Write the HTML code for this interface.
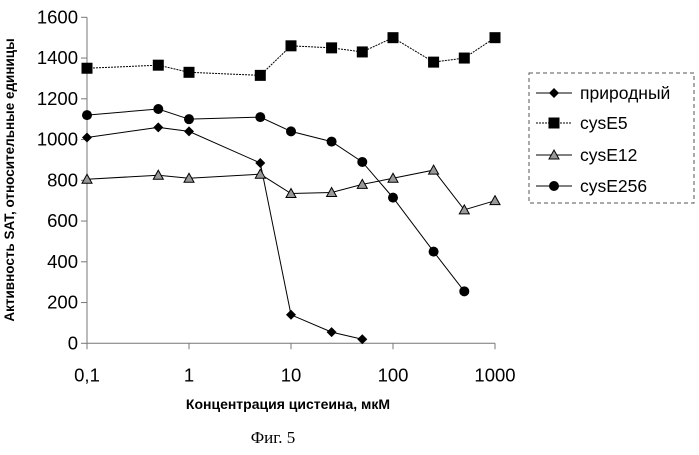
<!DOCTYPE html>
<html><head><meta charset="utf-8"><style>
html,body{margin:0;padding:0;background:#fff;}
svg text{font-family:"Liberation Sans",Arial,sans-serif;fill:#000;}
</style></head><body>
<svg width="699" height="450" viewBox="0 0 699 450" xmlns="http://www.w3.org/2000/svg">
<g id="axes"></g>
<g id="series"></g>
<g id="legend">
  <rect x="529" y="73" width="165" height="130" fill="none" stroke="#555" stroke-dasharray="4,3"/>
</g>
<text x="288" y="409" text-anchor="middle" font-size="14" font-weight="bold">Концентрация цистеина, мкМ</text>
<text transform="translate(14,180) rotate(-90)" text-anchor="middle" font-size="13.5" font-weight="bold">Активность SAT, относительные единицы</text>
<text x="273" y="443" text-anchor="middle" font-size="17" style="font-family:'Liberation Serif',serif">Фиг. 5</text>
</svg>
<script>
const xTickVals=[0.1,1,10,100,1000];
const xTickLabels=["0,1","1","10","100","1000"];
const yTickVals=[0,200,400,600,800,1000,1200,1400,1600];
const conc=[0.1,0.5,1,5,10,25,50,100,250,500,1000];
const natural=[1010,1060,1040,885,140,55,20];
const cysE5=[1350,1365,1330,1315,1460,1450,1430,1500,1380,1400,1500];
const cysE12=[805,825,810,830,735,740,780,810,850,655,700];
const cysE256=[1120,1150,1100,1110,1040,990,890,715,450,255];
const seriesNames=["природный","cysE5","cysE12","cysE256"];

const NS="http://www.w3.org/2000/svg";
const X0=87,DEC=102,Y0=343.3,YH=326;
function xs(v){return X0+(Math.log10(v)+1)*DEC;}
function ys(v){return Y0-v/1600*YH;}
function mk(tag,attrs,parent){const e=document.createElementNS(NS,tag);for(const k in attrs)e.setAttribute(k,attrs[k]);parent.appendChild(e);return e;}
const axes=document.getElementById('axes');
let a=mk('line',{x1:X0,y1:ys(0),x2:xs(1000),y2:ys(0),stroke:'#777','stroke-width':1},axes);


a=mk('line',{x1:X0,y1:ys(0),x2:X0,y2:ys(1600),stroke:'#777','stroke-width':1},axes);


yTickVals.forEach(v=>{
  const t=mk('line',{x1:X0-6,y1:ys(v),x2:X0,y2:ys(v),stroke:'#777'},axes);
  
  
  const l=mk('text',{x:X0-9,y:ys(v)+6,'text-anchor':'end','font-size':18.5},axes);
  l.textContent=v;
  
  
});
xTickVals.forEach((v,i)=>{
  const t=mk('line',{x1:xs(v),y1:ys(0),x2:xs(v),y2:ys(0)+6,stroke:'#777'},axes);
  
  
  const l=mk('text',{x:xs(v),y:ys(0)+38,'text-anchor':'middle','font-size':18.5},axes);
  l.textContent=xTickLabels[i];
  
  
});
function marker(g,type,x,y){
  let e;
  if(type==='diamond')e=mk('polygon',{points:`${x},${y-5} ${x+5},${y} ${x},${y+5} ${x-5},${y}`,fill:'#000'},g);
  else if(type==='square')e=mk('rect',{x:x-5.5,y:y-5.5,width:11,height:11,fill:'#000'},g);
  else if(type==='triangle')e=mk('polygon',{points:`${x},${y-5} ${x+5},${y+4} ${x-5},${y+4}`,fill:'#999',stroke:'#000','stroke-width':1},g);
  else e=mk('circle',{cx:x,cy:y,r:5,fill:'#000'},g);
  
  
}
const seriesData=[natural,cysE5,cysE12,cysE256];
const markers=['diamond','square','triangle','circle'];
const dashes=['none','2,1','none','none'];
const sg=document.getElementById('series');
seriesData.forEach((d,si)=>{
  const g=mk('g',{},sg);
  
  
  const pts=d.map((v,i)=>xs(conc[i])+','+ys(v)).join(' ');
  const pl=mk('polyline',{points:pts,fill:'none',stroke:'#000','stroke-width':1,'stroke-dasharray':dashes[si]},g);
  
  
  d.forEach((v,i)=>marker(g,markers[si],xs(conc[i]),ys(v)));
});
const lg=document.getElementById('legend');
const ly=[93,123,155,186];
seriesNames.forEach((n,i)=>{
  const g=mk('g',{},lg);
  
  
  mk('line',{x1:536,y1:ly[i],x2:572,y2:ly[i],stroke:'#000','stroke-dasharray':dashes[i]},g);
  marker(g,markers[i],554,ly[i]);
  const t=mk('text',{x:580,y:ly[i]+6,'font-size':17.5},g);
  t.textContent=n;
  
  
});
</script>
</body></html>
